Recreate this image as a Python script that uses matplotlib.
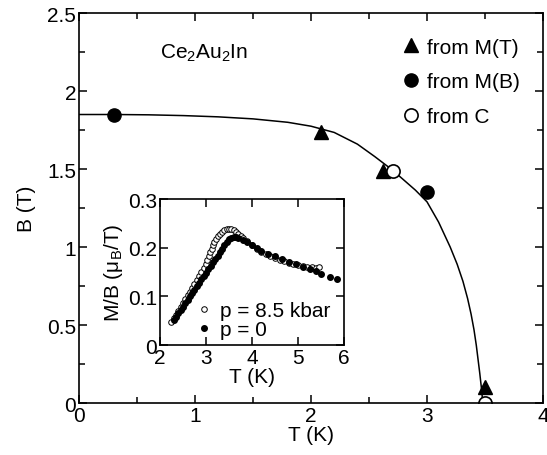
import matplotlib
matplotlib.use('Agg')
import matplotlib.pyplot as plt
from matplotlib.ticker import MultipleLocator, FuncFormatter

plt.rcParams['font.family'] = ['Liberation Sans', 'DejaVu Sans']
plt.rcParams['mathtext.default'] = 'regular'
plt.rcParams['font.size'] = 15

# critical field points, main panel
t_mt = [2.09, 2.62, 3.5]
b_mt = [1.74, 1.49, 0.1]
t_mb = [0.3, 3.0]
b_mb = [1.85, 1.35]
t_c = [2.71, 3.5]
b_c = [1.49, 0.0]

# guide line
t_line = [0.0, 0.3, 0.6, 0.9, 1.2, 1.5, 1.8, 2.0, 2.2, 2.4, 2.55, 2.7, 2.8, 2.9,
          3.0, 3.1, 3.2, 3.26, 3.31, 3.35, 3.38, 3.405, 3.425, 3.44, 3.455,
          3.467, 3.475, 3.48]
b_line = [1.85, 1.85, 1.848, 1.843, 1.835, 1.822, 1.80, 1.775, 1.735, 1.66, 1.58,
          1.495, 1.43, 1.365, 1.29, 1.16, 1.0, 0.89, 0.78, 0.67, 0.57, 0.47,
          0.37, 0.28, 0.19, 0.11, 0.05, 0.0]

# inset: M/B vs T
t_p85 = [2.25, 2.3, 2.35, 2.4, 2.45, 2.5, 2.55, 2.6, 2.65, 2.7, 2.75, 2.8, 2.85, 2.9,
         2.95, 3.0, 3.03, 3.06, 3.09, 3.12, 3.15, 3.18, 3.21, 3.25, 3.3, 3.35, 3.4,
         3.45, 3.5, 3.55, 3.6, 3.65, 3.7, 3.75, 3.8, 3.9, 4.0, 4.1, 4.2, 4.3, 4.4,
         4.5, 4.6, 4.7, 4.8, 4.9, 5.0, 5.1, 5.2, 5.3, 5.4, 5.45]
m_p85 = [0.048, 0.055, 0.062, 0.07, 0.078, 0.086, 0.094, 0.102, 0.11, 0.118, 0.126,
         0.134, 0.142, 0.150, 0.158, 0.167, 0.175, 0.183, 0.191, 0.198, 0.205, 0.212,
         0.218, 0.224, 0.229, 0.233, 0.236, 0.238, 0.239, 0.238, 0.236, 0.233, 0.229,
         0.225, 0.221, 0.213, 0.205, 0.198, 0.192, 0.187, 0.182, 0.178, 0.175, 0.172,
         0.169, 0.167, 0.165, 0.163, 0.161, 0.160, 0.159, 0.16]
t_p0 = [2.3, 2.35, 2.4, 2.45, 2.5, 2.55, 2.6, 2.65, 2.7, 2.75, 2.8, 2.85, 2.9, 2.95,
        3.0, 3.05, 3.1, 3.15, 3.2, 3.25, 3.3, 3.35, 3.4, 3.45, 3.5, 3.55, 3.6, 3.65,
        3.7, 3.8, 3.9, 4.0, 4.1, 4.2, 4.35, 4.5, 4.65, 4.8, 4.95, 5.1, 5.25, 5.4,
        5.5, 5.7, 5.85]
m_p0 = [0.052, 0.058, 0.065, 0.072, 0.079, 0.086, 0.093, 0.1, 0.107, 0.114, 0.121,
        0.128, 0.135, 0.142, 0.149, 0.156, 0.163, 0.170, 0.177, 0.184, 0.191, 0.198,
        0.205, 0.211, 0.217, 0.221, 0.223, 0.222, 0.22, 0.215, 0.211, 0.206, 0.2,
        0.194, 0.188, 0.182, 0.176, 0.171, 0.166, 0.161, 0.157, 0.153, 0.145, 0.139,
        0.135]

fig = plt.figure(figsize=(5.47, 4.56), dpi=100)
ax = fig.add_axes([0.1444, 0.114, 0.8483, 0.855])

ax.plot(t_line, b_line, color='black', linewidth=1.1)
ax.plot(t_mt, b_mt, '^', color='black', ms=9.5, label='from M(T)')
ax.plot(t_mb, b_mb, 'o', color='black', ms=9.5, label='from M(B)')
ax.plot(t_c, b_c, 'o', mfc='white', mec='black', mew=1.2, ms=9.5, label='from C')

ax.set_xlim(0, 4)
ax.set_ylim(0, 2.5)
ax.xaxis.set_major_locator(MultipleLocator(1))
ax.xaxis.set_minor_locator(MultipleLocator(0.5))
ax.yaxis.set_major_locator(MultipleLocator(0.5))
ax.yaxis.set_minor_locator(MultipleLocator(0.25))
ax.yaxis.set_major_formatter(FuncFormatter(lambda v, p: '%g' % v))
ax.tick_params(which='both', direction='in', top=True, right=True, width=1.1)
ax.tick_params(which='major', length=6, pad=2)
ax.tick_params(which='minor', length=4)
for s in ax.spines.values():
    s.set_linewidth(1.2)
ax.set_xlabel('T (K)', labelpad=0)
ax.set_ylabel('B (T)', labelpad=8)
ax.text(0.175, 0.885, r'Ce$_2$Au$_2$In', transform=ax.transAxes)
ax.legend(loc='upper right', bbox_to_anchor=(0.99, 0.985), frameon=False,
          handlelength=0.9, handletextpad=0.3, labelspacing=0.75, numpoints=1)

# inset
ins = fig.add_axes([0.2925, 0.2412, 0.3364, 0.320])
ins.plot(t_p85, m_p85, 'o', mfc='white', mec='black', mew=0.7, ms=4,
         label='p = 8.5 kbar')
ins.plot(t_p0, m_p0, 'o', color='black', ms=4, label='p = 0')
ins.set_xlim(2, 6)
ins.set_ylim(0, 0.3)
ins.xaxis.set_major_locator(MultipleLocator(1))
ins.yaxis.set_major_locator(MultipleLocator(0.1))
ins.yaxis.set_major_formatter(FuncFormatter(lambda v, p: '%g' % round(v, 2)))
ins.tick_params(direction='in', top=True, right=True, length=6, width=1.1, pad=2)
for s in ins.spines.values():
    s.set_linewidth(1.2)
ins.set_xlabel('T (K)', labelpad=0)
ins.set_ylabel(r'M/B ($\mu_B$/T)', labelpad=2)
ins.legend(loc='lower right', bbox_to_anchor=(1.03, -0.09), frameon=False,
           handlelength=0.6, handletextpad=0.5, labelspacing=0.0, numpoints=1)

fig.savefig('out.png', dpi=100)
